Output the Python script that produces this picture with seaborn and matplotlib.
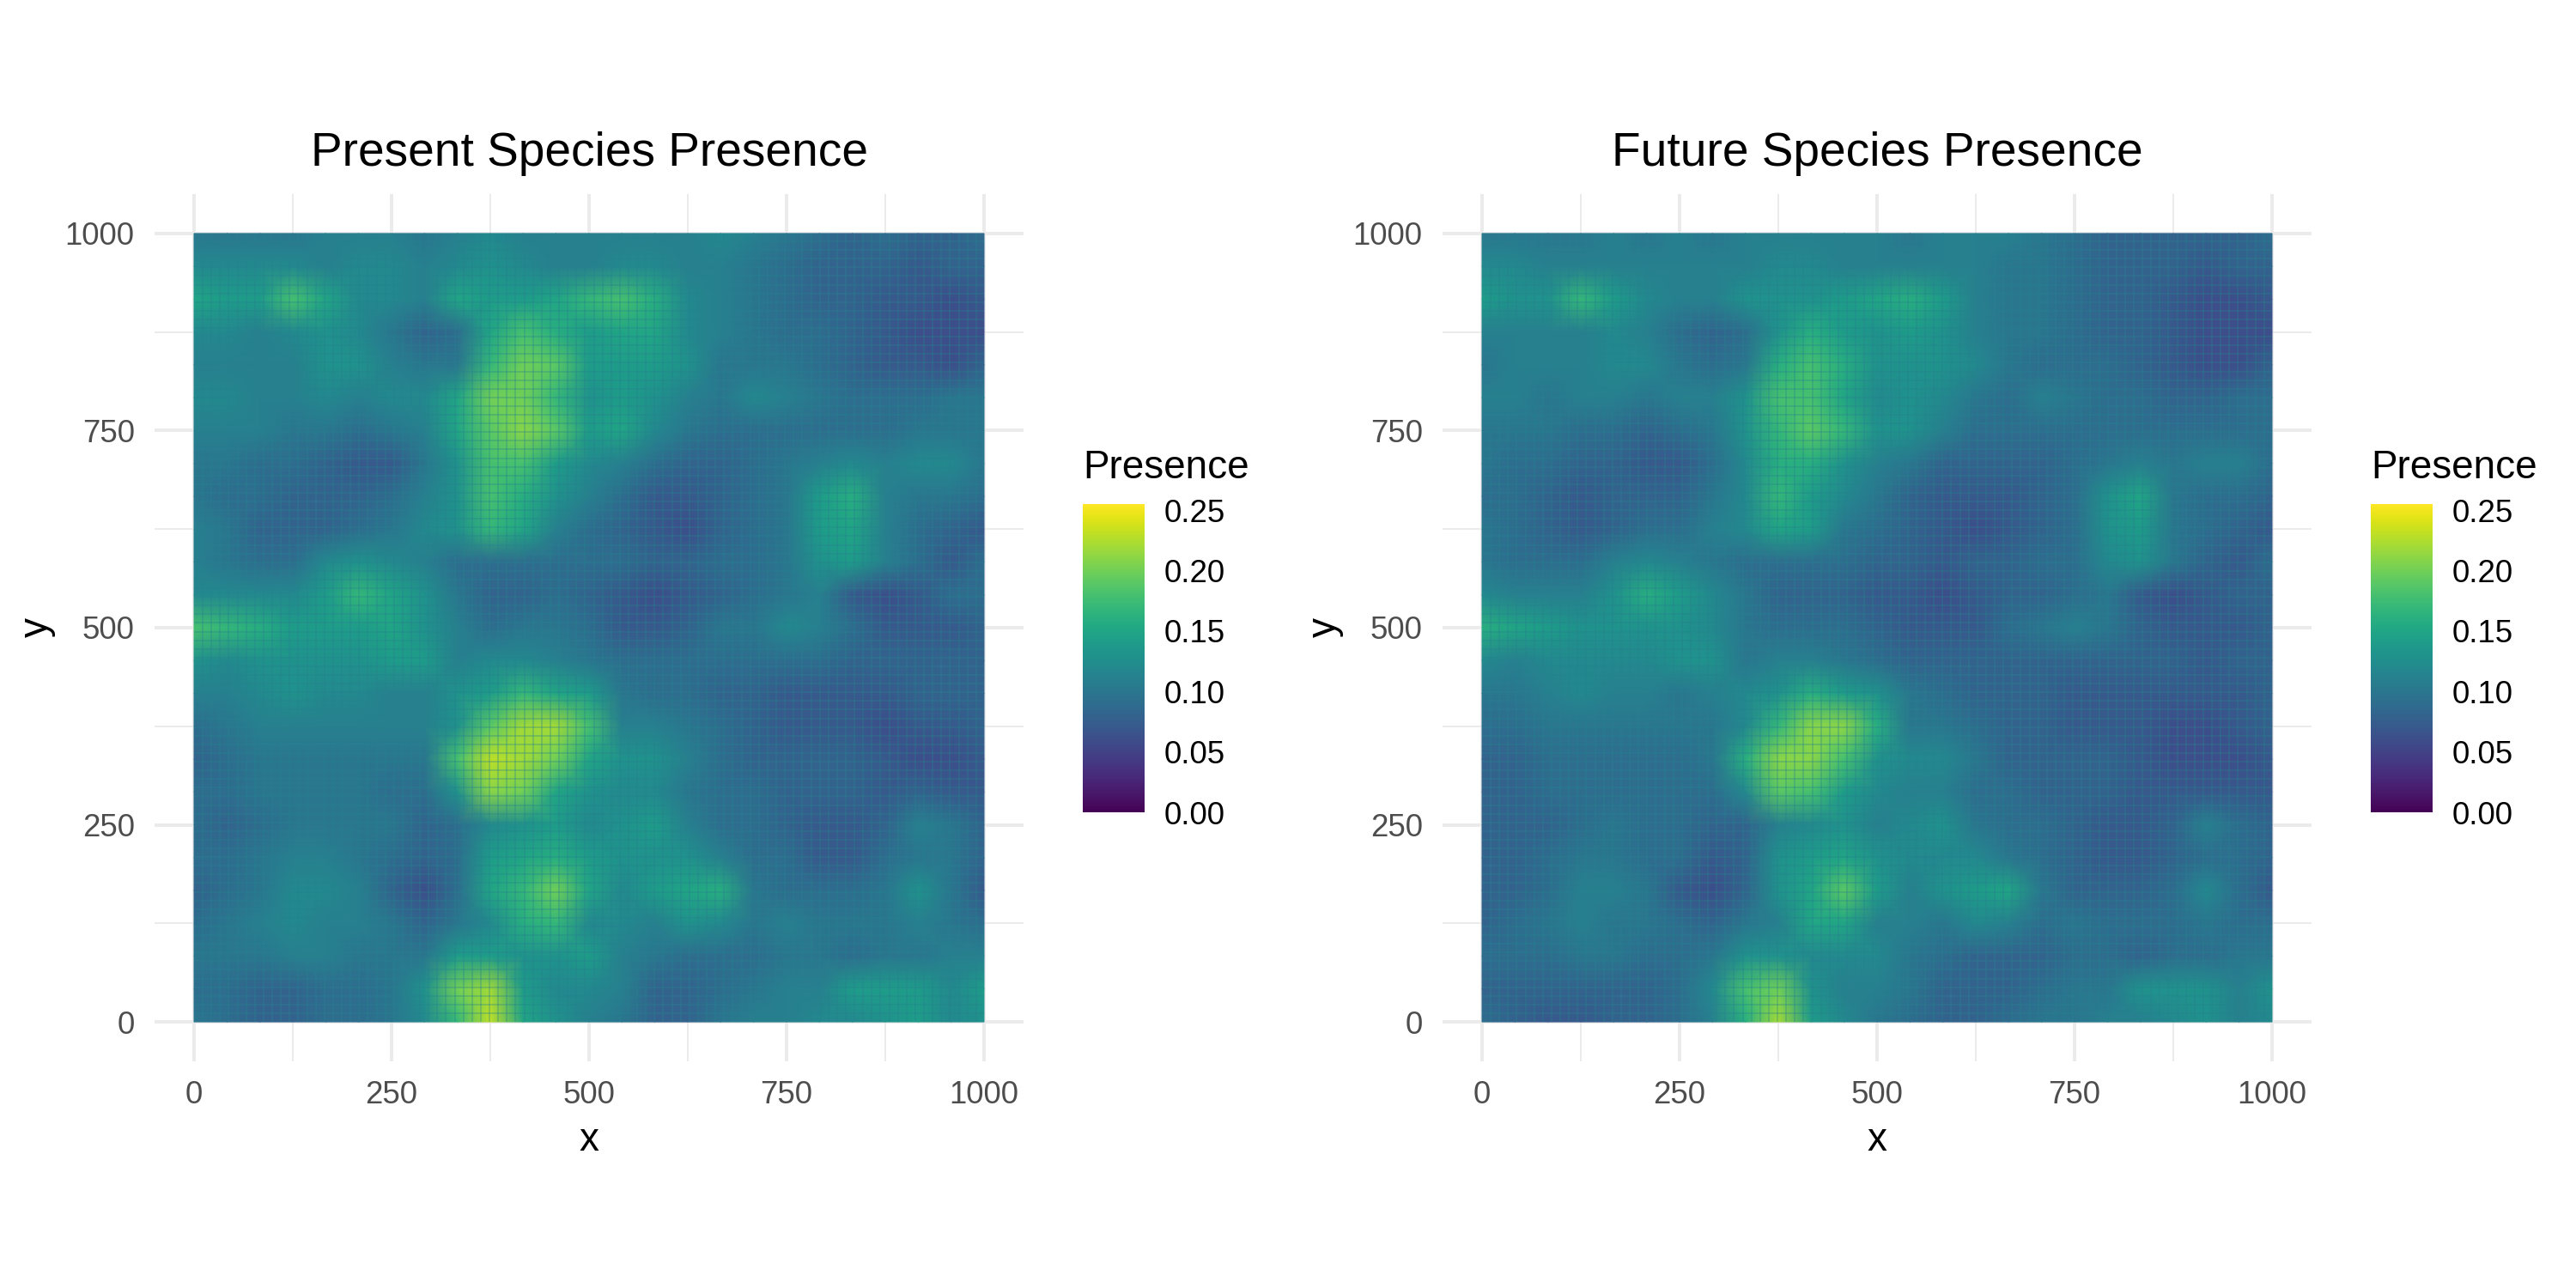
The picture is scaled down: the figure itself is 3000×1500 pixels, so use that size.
import numpy as np
from matplotlib import pyplot as plt
import seaborn as sns

sns.set_theme(style='white')
plt.rcParams['font.family'] = ['Liberation Sans', 'DejaVu Sans']

# presence x 100, rows run from y=1000 down to y=0, columns from x=0 to x=1000
present_presence = [
    [10, 10, 10, 10, 11, 11, 11, 10, 11, 12, 11, 11, 11, 11, 11, 11, 12, 11, 10, 9, 8, 9, 8, 8, 9],
    [12, 12, 12, 12, 11, 12, 12, 11, 12, 13, 12, 11, 11, 12, 12, 11, 11, 10, 9, 8, 8, 8, 7, 8, 8],
    [15, 14, 14, 18, 15, 12, 12, 11, 15, 14, 14, 15, 17, 18, 16, 12, 11, 10, 9, 8, 8, 7, 7, 6, 7],
    [12, 12, 11, 12, 13, 12, 10, 8, 9, 15, 18, 16, 14, 15, 15, 12, 11, 10, 9, 9, 8, 7, 6, 6, 6],
    [11, 11, 11, 11, 13, 13, 11, 10, 10, 17, 20, 19, 14, 14, 14, 13, 10, 10, 10, 9, 8, 7, 7, 6, 8],
    [12, 12, 11, 11, 12, 11, 12, 12, 15, 20, 20, 17, 13, 14, 13, 11, 10, 12, 11, 10, 9, 9, 9, 10, 10],
    [11, 11, 11, 10, 10, 9, 10, 11, 15, 19, 21, 19, 14, 15, 12, 10, 9, 9, 9, 9, 9, 9, 10, 10, 10],
    [10, 10, 9, 9, 8, 7, 7, 10, 13, 18, 18, 14, 12, 11, 9, 8, 8, 9, 10, 11, 12, 11, 12, 12, 10],
    [10, 9, 9, 8, 8, 8, 9, 11, 13, 18, 16, 13, 11, 9, 7, 7, 8, 9, 10, 14, 16, 11, 10, 10, 9],
    [11, 10, 8, 8, 8, 9, 10, 12, 13, 17, 15, 11, 9, 8, 7, 6, 8, 9, 10, 14, 15, 11, 9, 8, 7],
    [11, 10, 9, 9, 12, 13, 12, 11, 9, 9, 9, 9, 9, 9, 8, 8, 9, 9, 10, 13, 14, 11, 9, 7, 9],
    [12, 12, 12, 12, 14, 17, 15, 13, 10, 8, 8, 9, 8, 7, 6, 7, 8, 9, 10, 11, 7, 6, 7, 9, 9],
    [18, 17, 16, 14, 14, 14, 15, 13, 11, 9, 10, 10, 9, 7, 7, 8, 10, 10, 12, 11, 9, 7, 7, 7, 8],
    [13, 12, 13, 13, 13, 13, 14, 14, 11, 12, 12, 11, 10, 9, 9, 9, 9, 9, 9, 9, 8, 8, 8, 8, 8],
    [11, 11, 12, 13, 12, 12, 11, 11, 13, 14, 17, 15, 14, 10, 9, 9, 8, 8, 7, 7, 7, 7, 8, 8, 8],
    [9, 10, 11, 11, 11, 11, 11, 11, 13, 19, 22, 22, 18, 11, 11, 10, 9, 8, 7, 7, 7, 6, 7, 7, 8],
    [8, 9, 10, 10, 10, 10, 10, 10, 18, 23, 22, 20, 15, 13, 13, 11, 9, 8, 8, 8, 8, 7, 6, 6, 7],
    [9, 9, 10, 10, 10, 10, 9, 9, 13, 21, 20, 15, 13, 12, 12, 10, 9, 9, 8, 8, 8, 7, 8, 7, 7],
    [9, 8, 9, 10, 10, 10, 10, 8, 9, 12, 13, 14, 12, 13, 14, 11, 9, 9, 8, 7, 7, 8, 11, 10, 8],
    [9, 9, 10, 11, 11, 10, 9, 8, 9, 14, 15, 16, 14, 13, 13, 13, 11, 9, 9, 7, 7, 9, 10, 10, 8],
    [8, 9, 10, 12, 12, 11, 8, 6, 9, 15, 17, 20, 15, 12, 14, 15, 16, 10, 9, 9, 9, 10, 13, 10, 7],
    [9, 10, 11, 12, 11, 11, 10, 8, 10, 12, 16, 17, 12, 12, 11, 13, 12, 10, 11, 10, 10, 10, 11, 10, 9],
    [10, 10, 10, 11, 11, 10, 10, 10, 14, 14, 13, 13, 14, 11, 10, 9, 9, 9, 10, 10, 9, 10, 10, 11, 11],
    [9, 9, 8, 8, 9, 9, 10, 13, 20, 22, 14, 12, 12, 11, 8, 8, 9, 10, 11, 11, 14, 14, 14, 12, 14],
    [10, 9, 8, 8, 9, 9, 10, 12, 17, 23, 15, 13, 11, 10, 8, 8, 10, 11, 11, 12, 12, 13, 14, 12, 13],
]

future_presence = [
    [10, 10, 10, 10, 11, 10, 11, 10, 11, 11, 11, 11, 11, 10, 11, 11, 11, 10, 9, 8, 8, 8, 8, 8, 9],
    [12, 12, 11, 11, 11, 11, 11, 11, 11, 12, 12, 11, 11, 11, 11, 11, 10, 10, 9, 8, 8, 8, 7, 8, 8],
    [14, 13, 13, 17, 14, 12, 11, 11, 13, 13, 13, 14, 15, 16, 14, 11, 10, 10, 9, 8, 8, 7, 6, 6, 7],
    [11, 11, 11, 11, 12, 11, 9, 8, 9, 13, 16, 14, 13, 14, 13, 11, 10, 10, 9, 8, 8, 7, 6, 6, 6],
    [10, 11, 11, 11, 12, 12, 10, 9, 10, 16, 18, 16, 13, 13, 13, 12, 10, 9, 9, 9, 8, 7, 6, 6, 8],
    [11, 11, 10, 11, 11, 10, 11, 11, 13, 18, 18, 15, 12, 13, 12, 10, 9, 11, 10, 9, 9, 8, 8, 9, 9],
    [10, 10, 10, 9, 9, 8, 9, 10, 13, 17, 19, 17, 13, 13, 11, 9, 9, 9, 9, 9, 9, 9, 9, 9, 9],
    [10, 9, 9, 8, 8, 7, 7, 9, 12, 16, 16, 13, 11, 10, 8, 8, 8, 8, 9, 10, 11, 10, 11, 11, 9],
    [9, 9, 8, 7, 8, 8, 8, 10, 12, 17, 14, 12, 10, 8, 7, 7, 7, 8, 9, 13, 15, 10, 9, 9, 8],
    [10, 9, 8, 7, 8, 9, 9, 11, 12, 15, 14, 10, 9, 8, 7, 6, 7, 8, 9, 13, 14, 10, 9, 8, 7],
    [10, 9, 9, 9, 11, 12, 11, 10, 9, 9, 9, 9, 8, 8, 7, 8, 8, 9, 9, 12, 13, 10, 8, 7, 9],
    [12, 11, 11, 11, 13, 16, 14, 12, 10, 8, 8, 8, 7, 7, 6, 7, 8, 8, 9, 10, 7, 6, 7, 8, 8],
    [16, 15, 14, 13, 13, 13, 13, 12, 10, 9, 9, 9, 8, 7, 7, 7, 9, 10, 11, 10, 8, 7, 7, 7, 8],
    [12, 11, 12, 12, 12, 12, 13, 13, 10, 11, 11, 10, 9, 8, 8, 8, 8, 8, 8, 8, 8, 8, 7, 8, 8],
    [10, 10, 11, 12, 11, 11, 10, 11, 12, 13, 16, 14, 13, 10, 9, 8, 8, 8, 7, 7, 7, 7, 7, 7, 8],
    [9, 9, 10, 10, 10, 10, 10, 10, 12, 17, 21, 21, 16, 10, 10, 9, 8, 8, 7, 7, 7, 6, 6, 7, 8],
    [8, 8, 9, 9, 9, 9, 9, 10, 16, 21, 21, 18, 13, 12, 12, 10, 8, 8, 8, 8, 7, 6, 6, 6, 7],
    [8, 8, 9, 9, 9, 9, 9, 9, 12, 19, 18, 14, 12, 11, 11, 9, 9, 8, 8, 8, 7, 7, 7, 7, 7],
    [8, 8, 8, 9, 10, 9, 9, 8, 8, 11, 12, 13, 11, 12, 13, 10, 9, 9, 8, 7, 7, 8, 11, 9, 8],
    [8, 8, 9, 10, 10, 9, 9, 7, 8, 13, 14, 15, 13, 12, 12, 12, 10, 9, 8, 7, 7, 8, 9, 9, 8],
    [8, 8, 9, 11, 11, 10, 7, 6, 8, 13, 15, 19, 14, 11, 13, 14, 15, 10, 8, 8, 8, 9, 12, 9, 7],
    [8, 9, 10, 11, 10, 10, 9, 8, 10, 11, 15, 15, 11, 11, 10, 12, 11, 9, 10, 9, 9, 9, 10, 9, 9],
    [9, 9, 9, 10, 10, 9, 9, 10, 13, 13, 12, 12, 12, 10, 9, 8, 8, 8, 9, 9, 8, 9, 9, 10, 10],
    [8, 8, 8, 8, 8, 8, 9, 12, 18, 20, 13, 11, 11, 10, 8, 8, 8, 9, 10, 10, 13, 13, 13, 11, 13],
    [9, 8, 7, 7, 8, 8, 9, 11, 16, 22, 14, 12, 10, 9, 8, 8, 9, 10, 10, 11, 11, 12, 13, 11, 12],
]

panel_titles = ['Present Species Presence', 'Future Species Presence']
axis_ticks = [0, 250, 500, 750, 1000]
minor_ticks = [125, 375, 625, 875]
legend_ticks = [0.00, 0.05, 0.10, 0.15, 0.20, 0.25]
legend_max = 0.255

W, H = 3000, 1500
GRID = '#ebebeb'
TICK_TEXT = '#4d4d4d'


def to_col(v, n):
    return np.asarray(v) / 1000 * (n - 1)


def to_row(v, n):
    return (1000 - np.asarray(v)) / 1000 * (n - 1)


def plot_panel(fig, values, title, dx):
    data = np.array(values) / 100
    n = len(data)

    ax = fig.add_axes([(180 + dx) / W, 1 - 1236 / H, 1012 / W, 1010 / H])
    cax = fig.add_axes([(1261 + dx) / W, 1 - 946 / H, 72 / W, 359 / H])

    sns.heatmap(
        data,
        ax=ax,
        cbar_ax=cax,
        cmap='viridis',
        vmin=0,
        vmax=legend_max,
        shading='gouraud',
        xticklabels=False,
        yticklabels=False,
        cbar_kws={'ticks': legend_ticks, 'format': '%.2f'},
    )

    ax.set_xlim(to_col(-50, n), to_col(1050, n))
    ax.set_ylim(to_row(-50, n), to_row(1050, n))
    ax.set_xticks(to_col(axis_ticks, n))
    ax.set_xticklabels(axis_ticks)
    ax.set_yticks(to_row(axis_ticks, n))
    ax.set_yticklabels(axis_ticks)
    ax.set_xticks(to_col(minor_ticks, n), minor=True)
    ax.set_yticks(to_row(minor_ticks, n), minor=True)

    # theme_minimal style grid behind the raster
    ax.set_axisbelow(True)
    ax.grid(True, which='major', color=GRID, linewidth=0.96)
    ax.grid(True, which='minor', color=GRID, linewidth=0.48)
    ax.tick_params(which='both', length=0)
    ax.tick_params(axis='x', which='major', labelsize=8.8, labelcolor=TICK_TEXT, pad=5.2)
    ax.tick_params(axis='y', which='major', labelsize=8.8, labelcolor=TICK_TEXT, pad=5.6)
    for spine in ax.spines.values():
        spine.set_visible(False)

    # fine lattice the tile rendering leaves over the raster
    lattice = np.arange(11, 1000, 11)
    ax.vlines(to_col(lattice, n), to_row(0, n), to_row(1000, n),
              color='#26828e', alpha=0.4, linewidth=0.36, zorder=3)
    ax.hlines(to_row(lattice, n), to_col(0, n), to_col(1000, n),
              color='#26828e', alpha=0.4, linewidth=0.36, zorder=3)

    ax.set_title(title, fontsize=13.2, color='black', pad=8)
    ax.set_xlabel('x', fontsize=11, color='black', labelpad=3.2)
    ax.set_ylabel('y', fontsize=11, color='black', labelpad=2.5)

    # legend
    cax.tick_params(axis='y', which='both', direction='in', length=3.4, width=0.5,
                    color='white', left=True, right=True, labelleft=False, labelright=True,
                    labelsize=8.8, labelcolor='black', pad=5.5)
    fig.text((1261 + dx) / W, 1 - 557 / H, 'Presence', fontsize=11, color='black',
             ha='left', va='baseline')


fig = plt.figure(figsize=(10, 5), dpi=300, facecolor='white')
plot_panel(fig, present_presence, panel_titles[0], 0)
plot_panel(fig, future_presence, panel_titles[1], 1500)
fig.savefig('out.png', dpi=300, facecolor='white')
